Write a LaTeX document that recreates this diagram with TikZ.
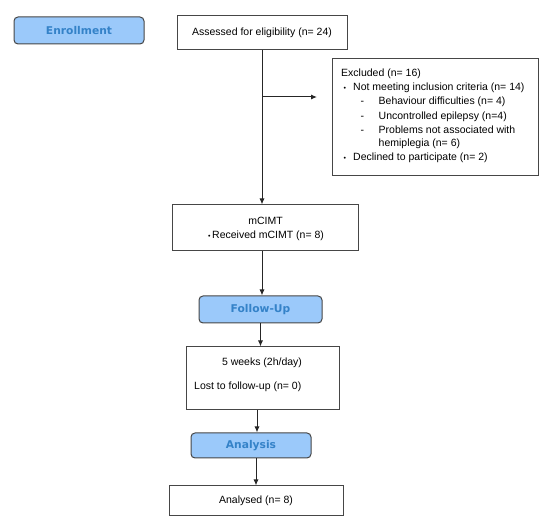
\documentclass[tikz,border=0pt]{standalone}
\usepackage{fontspec}
\setmainfont{Liberation Sans}
\newfontfamily\hdfont{DejaVu Sans}
\usetikzlibrary{arrows.meta}
\definecolor{hdfill}{RGB}{155,201,250}
\definecolor{hdtext}{RGB}{52,130,200}
\definecolor{edge}{RGB}{70,70,70}
\tikzset{
  box/.style={draw=edge, line width=1pt, fill=white, inner sep=0pt, font=\fontsize{10.5}{12}\selectfont},
  hdbox/.style={draw=edge, line width=1pt, fill=hdfill, rounded corners=4pt, inner sep=0pt,
    text=hdtext, font=\hdfont\bfseries\fontsize{10.7}{12}\selectfont},
  txt/.style={inner sep=0pt, anchor=mid west, font=\fontsize{10.5}{12}\selectfont},
  arr/.style={draw=black!85, line width=1pt, -{Latex[length=6pt,width=5pt]}}
}
\begin{document}
\begin{tikzpicture}[x=1pt,y=-1pt]
\useasboundingbox (0,0) rectangle (550,526);
% header boxes
\node[hdbox, minimum width=130, minimum height=27] (enroll) at (79,30.5) {Enrollment};
\node[hdbox, minimum width=123, minimum height=27] (follow) at (260.5,309.5) {Follow-Up};
\node[hdbox, minimum width=120, minimum height=25] (analysis) at (251,445.5) {Analysis};
% white boxes
\node[box, minimum width=170, minimum height=34] (assess) at (262,33) {Assessed for eligibility (n= 24)};
\node[box, minimum width=206, minimum height=117] (excl) at (435,117.5) {};
\node[box, minimum width=186, minimum height=46] (mcimt) at (265,228) {};
\node[box, minimum width=153, minimum height=63] (weeks) at (262.5,378.5) {};
\node[box, minimum width=174, minimum height=30] (analysed) at (256,501) {Analysed (n= 8)};
% mCIMT text
\node[txt, anchor=mid] (m1) at (265.5,221.5) {mCIMT};
\node[txt, anchor=mid] (m2) at (266,235.5) {{\fontsize{7}{8}\selectfont •}\,Received mCIMT (n= 8)};
% excluded text
\node[txt] (e1) at (341,74) {Excluded (n= 16)};
\node[txt] (b1) at (343.5,87.5) {\fontsize{7}{8}\selectfont •};
\node[txt] (e2) at (353,87.5) {Not meeting inclusion criteria (n= 14)};
\node[txt] (d1) at (360.5,102) {-};
\node[txt] (e3) at (378.5,102) {Behaviour difficulties (n= 4)};
\node[txt] (d2) at (360.5,116.5) {-};
\node[txt] (e4) at (378.5,116.5) {Uncontrolled epilepsy (n=4)};
\node[txt] (d3) at (360.5,130.5) {-};
\node[txt] (e5) at (378.5,130.5) {Problems not associated with};
\node[txt] (e6) at (378.5,143.5) {hemiplegia (n= 6)};
\node[txt] (b2) at (343.5,157.5) {\fontsize{7}{8}\selectfont •};
\node[txt] (e7) at (353,157.5) {Declined to participate (n= 2)};
% weeks text
\node[txt, anchor=mid] (w1) at (262,363) {5 weeks (2h/day)};
\node[txt] (w2) at (194,387) {Lost to follow-up (n= 0)};
% connectors
\coordinate (split) at (assess.south |- 0,97);
\coordinate (extip) at (317,97);
\draw[arr] (assess.south) -- (assess.south |- mcimt.north);
\draw[arr] (split) -- (extip);
\draw[arr] ([xshift=-3pt]mcimt.south) -- ([xshift=-3pt]mcimt.south |- follow.north);
\draw[arr] (follow.south) -- (follow.south |- weeks.north);
\draw[arr] ([xshift=-5.5pt]weeks.south) -- ([xshift=-5.5pt]weeks.south |- analysis.north);
\draw[arr] ([xshift=5pt]analysis.south) -- ([xshift=5pt]analysis.south |- analysed.north);
\end{tikzpicture}
\end{document}
